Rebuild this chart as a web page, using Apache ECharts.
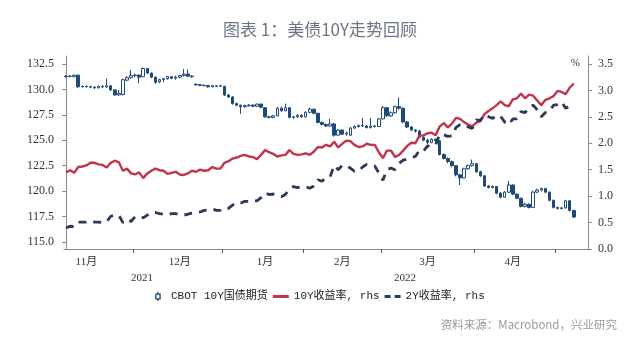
<!DOCTYPE html>
<html>
<head>
<meta charset="utf-8">
<script src="https://cdn.jsdelivr.net/npm/echarts@6/dist/echarts.min.js"></script>
<style>
  html, body { margin: 0; padding: 0; background: #fff; }
  #main { width: 640px; height: 351px; }
</style>
</head>
<body>
<div id="main"></div>
<script>
// trading days per month (US, holidays left out)
var novDays = [5, 8, 9, 10, 11, 12, 15, 16, 17, 18, 19, 22, 23, 24, 26, 29, 30];
var decDays = [1, 2, 3, 6, 7, 8, 9, 10, 13, 14, 15, 16, 17, 20, 21, 22, 23, 27, 28, 29, 30, 31];
var janDays = [3, 4, 5, 6, 7, 10, 11, 12, 13, 14, 18, 19, 20, 21, 24, 25, 26, 27, 28, 31];
var febDays = [1, 2, 3, 4, 7, 8, 9, 10, 11, 14, 15, 16, 17, 18, 22, 23, 24, 25, 28];
var marDays = [1, 2, 3, 4, 7, 8, 9, 10, 11, 14, 15, 16, 17, 18, 21, 22, 23, 24, 25, 28, 29, 30, 31];
var aprDays = [1, 4, 5, 6, 7, 8, 11, 12, 13, 14, 18, 19, 20, 21, 22, 25, 26, 27, 28, 29];
var mayDays = [2, 3, 4, 5, 6, 9, 10, 11];

// month ticks and month label positions
var tickDates = ['2021-12-01', '2022-01-03', '2022-02-01', '2022-03-01', '2022-04-01', '2022-05-02'];
var labelDates = ['2021-11-12', '2021-12-16', '2022-01-18', '2022-02-14', '2022-03-16', '2022-04-14'];

// CBOT 10Y futures: [open, close, low, high]
var futures = [
  [131.25,131.30,131.15,131.40],[131.30,131.28,131.18,131.38],[131.25,131.40,131.20,131.45],[131.40,130.25,130.15,131.45],
  [130.25,130.30,130.18,130.38],[130.30,130.28,130.15,130.38],[130.28,130.22,130.12,130.35],[130.22,130.15,130.05,130.30],
  [130.15,130.30,130.10,130.38],[130.30,130.25,130.12,130.40],[130.25,130.35,130.15,131.05],[130.35,129.95,129.85,130.40],
  [129.95,129.45,129.38,130.00],[129.45,129.60,129.38,129.95],[129.50,130.95,129.40,131.05],[130.90,131.15,130.80,131.30],
  [131.15,131.35,131.05,131.90],
  [131.35,131.40,131.20,131.55],[131.40,131.20,130.60,131.50],[131.25,132.05,131.20,132.15],[132.05,131.60,131.50,132.10],
  [131.60,131.20,131.10,131.65],[131.20,130.70,130.55,131.25],[130.75,130.95,130.60,131.05],[130.95,131.05,130.70,131.10],
  [131.05,131.25,130.95,131.30],[131.25,131.10,131.00,131.30],[131.10,131.20,130.95,131.35],[131.20,131.35,131.10,131.45],
  [131.35,131.50,131.25,132.00],[131.50,131.30,131.20,131.95],[131.30,131.25,131.15,131.40],[130.50,130.45,130.35,130.60],
  [130.45,130.40,130.32,130.50],[130.40,130.38,130.30,130.48],[130.38,130.25,130.18,130.42],[130.25,130.35,130.20,130.42],
  [130.35,130.30,130.22,130.40],[130.30,130.35,130.25,130.45],
  [130.30,129.45,129.35,130.35],[129.45,129.25,129.15,129.55],[129.25,128.60,128.50,129.35],[128.60,128.45,128.35,128.70],
  [128.45,128.30,127.60,128.50],[128.30,128.40,128.20,128.50],[128.40,128.45,128.30,128.55],[128.45,128.35,128.25,128.55],
  [128.35,128.55,128.30,128.60],[128.55,128.25,128.15,128.60],[128.20,127.30,127.20,128.25],[127.30,127.25,127.15,127.40],
  [127.25,127.40,127.15,127.50],[127.40,128.15,127.35,128.25],[128.15,127.90,127.80,128.30],[127.90,128.20,127.85,128.60],
  [128.20,127.25,127.15,128.25],[127.25,127.30,127.10,127.40],[127.30,127.45,127.20,127.55],[127.45,127.30,127.20,127.55],
  [127.30,127.75,127.25,127.85],[127.75,128.05,127.65,128.20],[128.05,127.65,127.55,128.10],[127.65,126.75,126.65,127.70],
  [126.75,126.55,126.45,126.85],[126.55,126.40,126.30,126.65],[126.40,126.60,126.35,127.10],[126.60,125.50,125.35,126.70],
  [125.50,126.00,125.45,126.10],[126.00,125.60,125.50,126.05],[125.60,125.70,125.45,125.85],[125.50,126.20,125.40,126.30],
  [126.20,126.35,126.10,126.45],[126.35,126.45,126.25,126.55],[126.45,126.40,126.30,127.20],[126.40,126.25,126.15,126.50],
  [126.25,126.40,126.15,127.20],[126.40,126.35,126.25,126.50],[126.35,127.10,126.30,127.20],
  [127.10,128.20,127.05,128.35],[128.20,127.40,127.30,128.25],[127.40,127.70,127.30,127.85],[127.70,128.30,127.60,128.40],
  [128.30,128.15,128.00,129.20],[128.15,126.80,126.70,128.20],[126.80,126.30,126.20,126.90],[126.30,126.00,125.90,126.40],
  [126.00,125.90,125.75,126.10],[125.90,125.30,125.20,126.00],[125.30,125.00,124.90,125.40],[125.00,124.80,124.60,125.15],
  [124.80,125.10,124.70,125.20],[125.10,124.95,124.80,125.20],[124.95,123.60,123.50,125.00],[123.60,123.20,123.10,123.70],
  [123.20,122.90,122.75,123.30],[122.90,122.50,122.35,123.00],[122.50,121.60,121.45,122.55],[121.60,121.30,120.60,121.70],
  [121.30,122.20,121.25,122.30],[122.20,122.50,122.10,122.60],[122.50,122.70,122.40,123.10],
  [122.70,121.90,121.80,122.75],[121.90,121.50,121.40,122.00],[121.50,120.50,120.40,121.55],[120.50,120.35,120.25,120.60],
  [120.35,120.45,120.25,120.55],[120.45,119.80,119.70,120.50],[119.80,119.40,119.30,119.90],[119.40,119.90,119.35,120.00],
  [119.90,120.60,119.80,121.00],[120.60,119.70,119.60,120.65],[119.70,119.30,119.20,119.80],[119.30,118.50,118.40,119.35],
  [118.50,118.70,118.40,118.85],[118.70,118.40,118.30,118.80],[118.40,119.90,118.35,120.05],[119.90,120.10,119.80,120.25],
  [120.10,120.25,119.95,120.35],[120.25,119.90,119.80,120.30],[119.90,119.10,119.00,119.95],[119.10,118.40,118.30,119.15],
  [118.40,118.30,118.20,118.45],[118.30,118.35,118.20,118.45],[118.35,119.05,118.30,119.15],[119.05,118.10,118.00,119.10],
  [118.10,117.45,117.35,118.15]
];

// 10Y yield, %
var y10 = [
  1.45,1.49,1.44,1.55,1.56,1.58,1.63,1.63,1.60,1.59,1.54,1.63,1.67,1.64,1.48,1.52,1.43,
  1.41,1.45,1.34,1.43,1.48,1.52,1.49,1.48,1.42,1.44,1.46,1.41,1.40,1.43,1.48,1.46,1.50,1.48,1.49,1.55,1.52,1.52,
  1.63,1.66,1.71,1.73,1.76,1.78,1.75,1.74,1.70,1.78,1.87,1.83,1.80,1.75,1.77,1.78,1.87,1.80,1.78,1.79,
  1.81,1.78,1.84,1.93,1.92,1.97,1.94,2.03,1.92,1.99,2.05,2.04,1.97,1.93,1.94,1.99,1.97,1.97,1.83,
  1.72,1.86,1.86,1.74,1.78,1.86,1.95,2.01,2.00,2.14,2.15,2.19,2.20,2.15,2.32,2.38,2.30,2.37,2.48,2.46,2.40,2.35,2.32,
  2.39,2.42,2.55,2.61,2.66,2.72,2.79,2.72,2.70,2.83,2.85,2.94,2.85,2.92,2.90,2.81,2.72,2.82,2.85,2.89,
  2.99,2.97,2.93,3.05,3.13
];

// 2Y yield, %
var y2 = [
  0.40,0.43,0.42,0.51,0.51,0.51,0.53,0.51,0.51,0.50,0.51,0.62,0.63,0.64,0.50,0.56,0.52,
  0.61,0.62,0.59,0.64,0.69,0.69,0.67,0.66,0.65,0.67,0.67,0.64,0.64,0.66,0.68,0.69,0.70,0.73,0.74,0.76,0.73,0.73,
  0.78,0.77,0.83,0.88,0.87,0.90,0.90,0.92,0.91,0.97,1.06,1.03,1.04,1.01,0.99,1.03,1.14,1.18,1.16,1.18,
  1.18,1.15,1.19,1.31,1.28,1.35,1.36,1.58,1.50,1.58,1.58,1.53,1.47,1.47,1.55,1.60,1.58,1.57,1.44,
  1.30,1.50,1.53,1.50,1.62,1.68,1.70,1.73,1.75,1.87,1.85,1.95,1.94,1.97,2.17,2.16,2.13,2.14,2.30,2.35,2.36,2.31,2.28,
  2.44,2.43,2.54,2.50,2.47,2.53,2.51,2.40,2.35,2.46,2.46,2.60,2.58,2.68,2.72,2.63,2.50,2.58,2.60,2.72,
  2.73,2.78,2.66,2.71,2.73
];

var leftTicks = [115, 117.5, 120, 122.5, 125, 127.5, 130, 132.5];
var rightTicks = [0, 0.5, 1, 1.5, 2, 2.5, 3, 3.5];

function pad(n) { return n < 10 ? '0' + n : '' + n; }
var dates = [];
[['2021-11', novDays], ['2021-12', decDays], ['2022-01', janDays], ['2022-02', febDays],
 ['2022-03', marDays], ['2022-04', aprDays], ['2022-05', mayDays]].forEach(function (m) {
  m[1].forEach(function (d) { dates.push(m[0] + '-' + pad(d)); });
});
// month boundaries sit on the left edge of the first trading day's band
var monthEdges = tickDates.map(function (d) { return dates.indexOf(d) - 0.5; });

var navy = '#1f4a78';
var red = '#c0344c';
var dashNavy = '#2a3a58';
var axisGray = '#8a8a8a';
var serif = "'Liberation Serif', 'Noto Sans CJK SC', serif";
var mono = "'Liberation Mono', 'Noto Sans CJK SC', monospace";

var chart = echarts.init(document.getElementById('main'), null, { renderer: 'canvas' });

var option = {
  animation: false,
  title: {
    text: '图表 1：美债10Y走势回顾',
    left: 'center',
    top: 16,
    textStyle: { fontSize: 17, fontWeight: 'normal', color: '#6b7784', fontFamily: "'Noto Sans CJK SC', sans-serif" }
  },
  legend: {
    left: 'center',
    top: 286,
    itemWidth: 16,
    itemHeight: 9,
    itemGap: 5,
    textStyle: { fontSize: 11, color: '#222', fontFamily: mono },
    data: [
      { name: 'CBOT 10Y国债期货', icon: 'path://M3,0h2v2h3v9h-3v2h-2v-2h-3v-9h3z M2,4v5h4v-5z', itemStyle: { color: navy, borderWidth: 0 } },
      { name: '10Y收益率, rhs', icon: 'path://M0,0h16v3h-16z', itemStyle: { color: red, borderWidth: 0 } },
      { name: '2Y收益率, rhs', icon: 'path://M0,0h6v3h-6z M10,0h6v3h-6z', itemStyle: { color: dashNavy, borderWidth: 0 } }
    ]
  },
  grid: { left: 64, right: 52, top: 56, bottom: 102 },
  xAxis: [
    {
      type: 'category',
      data: dates,
      boundaryGap: true,
      axisLine: { lineStyle: { color: axisGray, width: 1 } },
      axisTick: { show: false },
      axisLabel: {
        interval: function (i, v) { return labelDates.indexOf(v) >= 0; },
        formatter: function (v) { return parseInt(v.slice(5, 7), 10) + '月'; },
        fontSize: 11,
        color: '#333',
        fontFamily: serif,
        margin: 8
      },
      splitLine: { show: false }
    },
    {
      // tick-only axis for month boundaries, same scale as the category bands
      type: 'value',
      position: 'bottom',
      min: -0.5,
      max: dates.length - 0.5,
      axisLine: { show: false },
      axisLabel: { show: false },
      axisTick: { show: true, length: 4, customValues: monthEdges, lineStyle: { color: '#555' } },
      splitLine: { show: false }
    }
  ],
  yAxis: [
    {
      type: 'value',
      position: 'left',
      min: 114.31,
      max: 133.28,
      axisLine: { show: true, lineStyle: { color: axisGray } },
      axisTick: { show: true, length: 4, customValues: leftTicks, lineStyle: { color: axisGray } },
      axisLabel: {
        customValues: leftTicks,
        formatter: function (v) { return v.toFixed(1); },
        fontSize: 12, color: '#333', fontFamily: serif, margin: 10
      },
      splitLine: { show: false }
    },
    {
      type: 'value',
      position: 'right',
      min: 0,
      max: 3.65,
      name: '%',
      nameLocation: 'end',
      nameGap: -7,
      nameTextStyle: { fontSize: 11, color: '#333', fontFamily: serif, align: 'right', verticalAlign: 'middle', padding: [0, 8, 0, 0] },
      axisLine: { show: true, lineStyle: { color: axisGray } },
      axisTick: { show: true, length: 4, customValues: rightTicks, lineStyle: { color: axisGray } },
      axisLabel: {
        customValues: rightTicks,
        formatter: function (v) { return v.toFixed(1); },
        fontSize: 12, color: '#333', fontFamily: serif, margin: 10
      },
      splitLine: { show: false }
    }
  ],
  series: [
    {
      name: 'CBOT 10Y国债期货',
      type: 'candlestick',
      yAxisIndex: 0,
      barWidth: 3,
      data: futures,
      itemStyle: { color: '#ffffff', color0: navy, borderColor: navy, borderColor0: navy, borderWidth: 1 }
    },
    {
      name: '10Y收益率, rhs',
      type: 'line',
      yAxisIndex: 1,
      data: y10,
      showSymbol: false,
      symbol: 'none',
      itemStyle: { color: red },
      lineStyle: { color: red, width: 2.4 }
    },
    {
      name: '2Y收益率, rhs',
      type: 'line',
      yAxisIndex: 1,
      data: y2,
      showSymbol: false,
      symbol: 'none',
      itemStyle: { color: dashNavy },
      lineStyle: { color: dashNavy, width: 2.8, type: [8, 7] }
    }
  ],
  graphic: [
    { type: 'text', x: 142, y: 278, style: { text: '2021', align: 'center', verticalAlign: 'middle', fontSize: 11, fill: '#333', fontFamily: serif } },
    { type: 'text', x: 405, y: 278, style: { text: '2022', align: 'center', verticalAlign: 'middle', fontSize: 11, fill: '#333', fontFamily: serif } },
    { type: 'text', right: 23, top: 319, style: { text: '资料来源：Macrobond，兴业研究', fontSize: 11.5, fill: '#9a9a9a', fontFamily: "'Noto Sans CJK SC', sans-serif" } }
  ]
};

chart.setOption(option);
</script>
</body>
</html>
